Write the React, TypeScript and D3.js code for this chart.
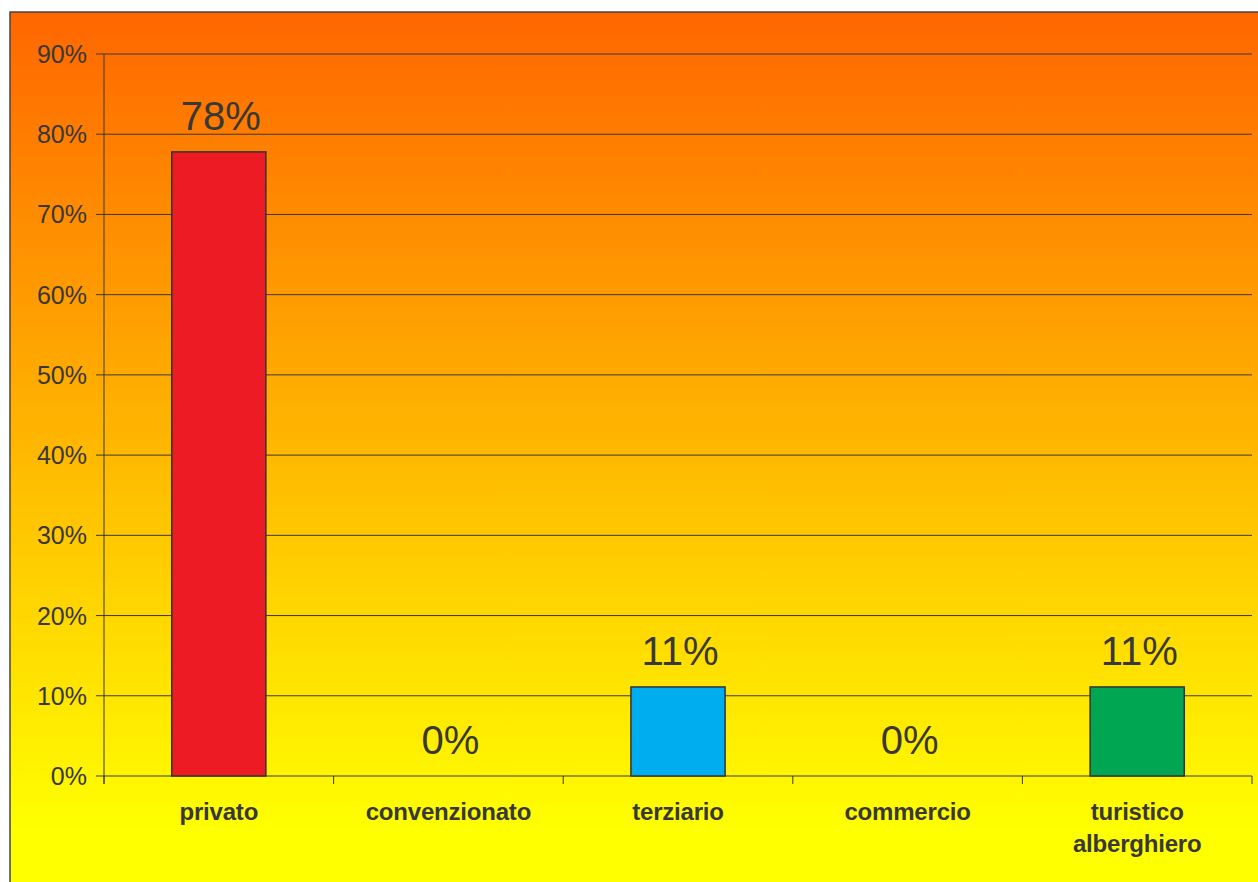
import React from "react";
import * as d3 from "d3";

const categories: string[][] = [
  ["privato"],
  ["convenzionato"],
  ["terziario"],
  ["commercio"],
  ["turistico", "alberghiero"],
];
const values: number[] = [77.8, 0, 11.1, 0, 11.1];
const valueLabels: string[] = ["78%", "0%", "11%", "0%", "11%"];
const barColors: string[] = ["#ED1C24", "#ED1C24", "#00AEEF", "#ED1C24", "#00A651"];
const yTicks: number[] = [0, 10, 20, 30, 40, 50, 60, 70, 80, 90];

const W = 1258;
const H = 882;
const plotLeft = 104;
const plotRight = 1252;
const plotTop = 54;
const plotBottom = 776;
const font = "'Liberation Sans', Arial, Helvetica, sans-serif";
const ink = "#383838";

export default function App() {
  const x = d3
    .scaleBand<number>()
    .domain(d3.range(categories.length))
    .range([plotLeft, plotRight])
    .paddingInner(0)
    .paddingOuter(0);
  const y = d3.scaleLinear().domain([0, 90]).range([plotBottom, plotTop]);
  const bw = x.bandwidth() * 0.41;

  return (
    <svg
      width={W}
      height={H}
      style={{ position: "fixed", left: 0, top: 0 }}
      fontFamily={font}
    >
      <defs>
        <linearGradient id="bg" gradientUnits="userSpaceOnUse" x1="0" y1="12" x2="0" y2="830">
          <stop offset="0" stopColor="#FF6600" />
          <stop offset="1" stopColor="#FFFF00" />
        </linearGradient>
      </defs>
      <rect x={0} y={0} width={W} height={H} fill="#ffffff" />
      <rect x={10} y={12} width={W} height={H} fill="url(#bg)" stroke="#444" strokeWidth={1.5} />

      {yTicks.map((t) => (
        <g key={t}>
          <line x1={96} x2={plotRight} y1={y(t)} y2={y(t)} stroke={ink} strokeWidth={1} />
          <text x={87} y={y(t)} dy="0.36em" textAnchor="end" fontSize={25} fill={ink}>
            {t}%
          </text>
        </g>
      ))}
      <line x1={plotLeft} x2={plotLeft} y1={plotTop} y2={plotBottom + 8} stroke={ink} strokeWidth={1} />
      {d3.range(categories.length + 1).map((i) => {
        const xx = i < categories.length ? (x(i) as number) : plotRight;
        return <line key={i} x1={xx} x2={xx} y1={plotBottom} y2={plotBottom + 8} stroke={ink} strokeWidth={1} />;
      })}

      {values.map((v, i) => {
        const cx = (x(i) as number) + x.bandwidth() / 2;
        return (
          <g key={i}>
            {v > 0 && (
              <rect
                x={cx - bw / 2}
                y={y(v)}
                width={bw}
                height={y(0) - y(v)}
                fill={barColors[i]}
                stroke="#333"
                strokeWidth={1.5}
              />
            )}
            <text x={cx + 2} y={y(v) - 22} textAnchor="middle" fontSize={40} fill={ink}>
              {valueLabels[i]}
            </text>
            {categories[i].map((line, j) => (
              <text
                key={j}
                x={cx}
                y={820 + j * 32}
                textAnchor="middle"
                fontSize={24}
                fontWeight="bold"
                fill={ink}
                letterSpacing={-0.2}
              >
                {line}
              </text>
            ))}
          </g>
        );
      })}
    </svg>
  );
}
